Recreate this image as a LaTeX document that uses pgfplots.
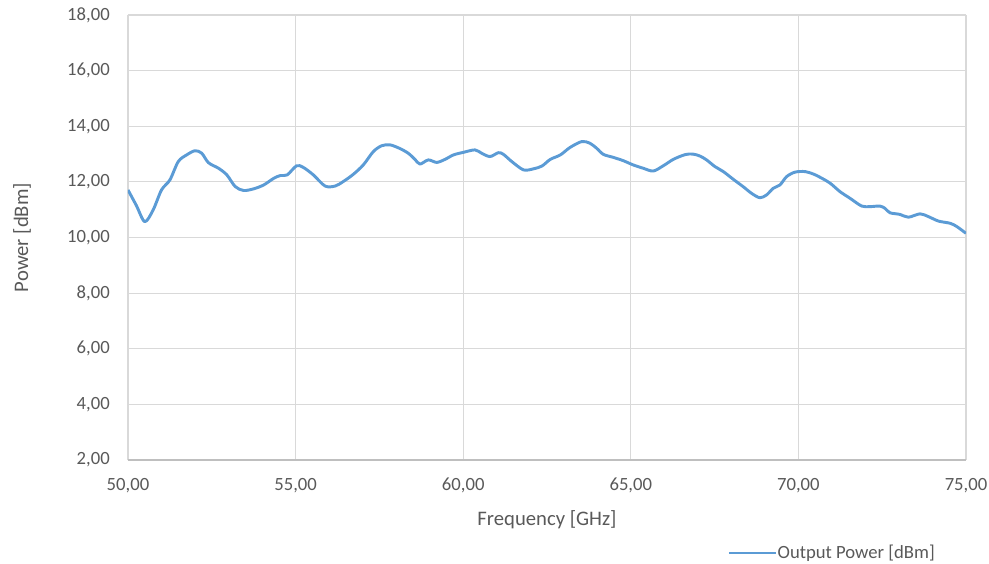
\documentclass[border=0pt]{standalone}
\usepackage{fontspec}
\setmainfont{Carlito}
\usepackage{pgfplots}
\pgfplotsset{compat=1.18}

\definecolor{seriesblue}{HTML}{5B9BD5}
\definecolor{gridgray}{HTML}{D9D9D9}
\definecolor{axisgray}{HTML}{BFBFBF}
\definecolor{textgray}{HTML}{595959}

\pgfplotstableread{
f      p
50.00  11.71
50.25  11.15
50.50  10.57
50.75  10.99
51.00  11.71
51.25  12.07
51.50  12.73
51.75  12.97
52.00  13.12
52.20  13.03
52.40  12.69
52.70  12.49
52.95  12.25
53.20  11.83
53.45  11.69
53.75  11.75
54.05  11.89
54.35  12.13
54.55  12.23
54.75  12.25
55.03  12.58
55.23  12.52
55.53  12.25
55.88  11.85
56.18  11.85
56.42  12.01
56.72  12.27
57.02  12.61
57.32  13.09
57.57  13.30
57.82  13.33
58.11  13.20
58.36  13.03
58.56  12.81
58.71  12.64
58.96  12.79
59.21  12.70
59.46  12.81
59.71  12.97
60.00  13.06
60.35  13.15
60.55  13.03
60.80  12.91
61.05  13.05
61.20  12.99
61.45  12.73
61.80  12.43
62.10  12.47
62.35  12.57
62.60  12.81
62.90  12.97
63.19  13.24
63.54  13.45
63.78  13.39
63.98  13.21
64.18  12.99
64.48  12.88
64.78  12.76
65.07  12.61
65.37  12.49
65.67  12.39
65.97  12.58
66.27  12.81
66.62  12.98
66.85  13.00
67.06  12.93
67.26  12.79
67.51  12.55
67.76  12.37
68.06  12.09
68.35  11.83
68.60  11.59
68.85  11.43
69.05  11.53
69.25  11.77
69.45  11.89
69.65  12.19
69.90  12.35
70.20  12.37
70.45  12.28
70.70  12.13
70.95  11.95
71.24  11.65
71.54  11.41
71.89  11.13
72.14  11.11
72.43  11.13
72.58  11.05
72.73  10.89
73.03  10.83
73.28  10.73
73.63  10.85
73.88  10.75
74.18  10.59
74.53  10.51
74.73  10.39
75.00  10.15
}\powertable

\begin{document}
\begin{tikzpicture}
  % page size: 989 x 564 px at 0.75pt per px
  \useasboundingbox (-96pt,-78pt) rectangle (645.75pt,345pt);
  \begin{axis}[
    at = {(0,0)}, anchor = south west,
    width = 628.5pt, height = 333.75pt,
    scale only axis,
    xmin = 50, xmax = 75,
    ymin = 2, ymax = 18,
    xtick distance = 5,
    ytick distance = 2,
    grid = major,
    major grid style = { color = gridgray, line width = 0.8pt },
    axis x line* = bottom,
    axis y line* = left,
    x axis line style = { draw = axisgray, line width = 0.8pt, -{} },
    y axis line style = { draw = none, -{} },
    major tick length = 0pt,
    tick style = { draw = none },
    /pgf/number format/assume math mode = true,
    /pgf/number format/.cd, fixed, fixed zerofill, precision = 2, use comma,
    /pgfplots/.cd,
    tick label style = { font = \fontsize{14}{16}\selectfont, text = textgray, inner sep = 0pt },
    xticklabel style = { anchor = north, yshift = -13.5pt },
    yticklabel style = { anchor = east, xshift = -13.5pt },
    xlabel = {Frequency [GHz]},
    ylabel = {Power [dBm]},
    label style = { font = \fontsize{15.5}{18}\selectfont, text = textgray },
    xlabel style = { at = {(axis description cs:0.5,-0.1348)}, anchor = center },
    ylabel style = { at = {(axis description cs:-0.1265,0.5)}, anchor = center },
    legend style = {
      at = {(axis description cs:0.715,-0.209)}, anchor = west,
      draw = none, fill = none, inner sep = 0pt,
      font = \fontsize{14}{16}\selectfont, text = textgray,
      cells = { anchor = west },
      /tikz/every even column/.append style = { column sep = 0pt },
      /tikz/every odd column/.append style = { column sep = 0pt },
      nodes = { inner sep = 0.5pt },
    },
    legend image code/.code = {
      \draw[#1, line width = 2.2pt] (0pt,0pt) -- (35pt,0pt);
    },
  ]
    \addplot[color = seriesblue, line width = 2.2pt, smooth, line join = round] table[x = f, y = p] {\powertable};
    \addlegendentry{Output Power [dBm]}
  \end{axis}
\end{tikzpicture}
\end{document}
